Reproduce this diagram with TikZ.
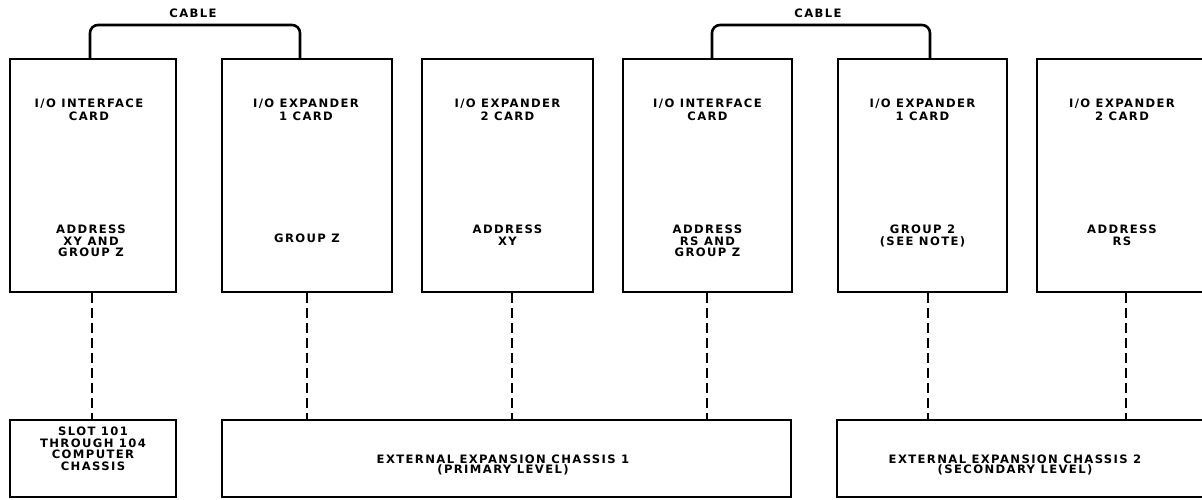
\documentclass[tikz,border=0pt]{standalone}
\usepackage{fontspec}
\setmainfont{DejaVu Sans}
\newfontfamily\lblfont[LetterSpace=12]{DejaVu Sans Bold}
\begin{document}
\begin{tikzpicture}[x=1pt,y=-1pt,
  card/.style={draw, line width=1.8pt, inner sep=0pt, minimum height=233pt},
  base/.style={draw, line width=1.8pt, inner sep=0pt, minimum height=77pt},
  cable/.style={line width=2.6pt, rounded corners=8pt},
  dashline/.style={line width=1.3pt, dash pattern=on 10pt off 5pt},
  lbl/.style={font=\lblfont\fontsize{11.6pt}{11.5pt}\selectfont, align=center, inner sep=0pt},
  toplbl/.style={font=\lblfont\fontsize{11.6pt}{13pt}\selectfont, align=center, inner sep=0pt},
  baselbl/.style={font=\lblfont\fontsize{11.6pt}{10pt}\selectfont, align=center, inner sep=0pt}]
\useasboundingbox (0,0) rectangle (1202,499);
\clip (0,0) rectangle (1202,499);
% cards
\node[card, minimum width=166pt] (c1) at (93,175.5) {};
\node[card, minimum width=170pt] (c2) at (307,175.5) {};
\node[card, minimum width=171pt] (c3) at (507.5,175.5) {};
\node[card, minimum width=169pt] (c4) at (707.5,175.5) {};
\node[card, minimum width=169pt] (c5) at (922.5,175.5) {};
\node[card, minimum width=170pt] (c6) at (1122,175.5) {};
% base boxes
\node[base, minimum width=166pt] (b1) at (93,458.5) {};
\node[base, minimum width=569pt] (b2) at (506.5,458.5) {};
\node[base, minimum width=378pt] (b3) at (1026,458.5) {};
% card texts
\node[toplbl] (t1) at (89,110) {I/O INTERFACE\\CARD};
\node[toplbl] (t2) at (306,110) {I/O EXPANDER\\1 CARD};
\node[toplbl] (t3) at (507.5,110) {I/O EXPANDER\\2 CARD};
\node[toplbl] (t4) at (707.5,110) {I/O INTERFACE\\CARD};
\node[toplbl] (t5) at (922.5,110) {I/O EXPANDER\\1 CARD};
\node[toplbl] (t6) at (1122,110) {I/O EXPANDER\\2 CARD};
\node[lbl, anchor=north] (m1) at (91,225) {ADDRESS\\XY AND\\GROUP Z};
\node[lbl, anchor=north] (m2) at (307,234) {GROUP Z};
\node[lbl, anchor=north] (m3) at (507.5,225) {ADDRESS\\XY};
\node[lbl, anchor=north] (m4) at (707.5,225) {ADDRESS\\RS AND\\GROUP Z};
\node[lbl, anchor=north] (m5) at (922.5,225) {GROUP 2\\(SEE NOTE)};
\node[lbl, anchor=north] (m6) at (1122,225) {ADDRESS\\RS};
% base texts
\node[lbl] (s1) at (93,449) {SLOT 101\\THROUGH 104\\COMPUTER\\CHASSIS};
\node[baselbl] (s2) at (503,465) {EXTERNAL EXPANSION CHASSIS 1\\(PRIMARY LEVEL)};
\node[baselbl] (s3) at (1015,465) {EXTERNAL EXPANSION CHASSIS 2\\(SECONDARY LEVEL)};
% cables
\coordinate (k1) at (195,25);
\coordinate (k2) at (820,25);
\draw[cable] ([xshift=-3pt]c1.north) |- (k1) -| ([xshift=-7pt]c2.north);
\draw[cable] ([xshift=4.5pt]c4.north) |- (k2) -| ([xshift=7.5pt]c5.north);
\node[lbl] (cl1) at (193,13) {CABLE};
\node[lbl] (cl2) at (818,13) {CABLE};
% dashed links
\draw[dashline] ([xshift=-1pt]c1.south) -- ([xshift=-1pt]c1.south |- b1.north);
\draw[dashline] (c2.south) -- (c2.south |- b2.north);
\draw[dashline] ([xshift=4.5pt]c3.south) -- ([xshift=4.5pt]c3.south |- b2.north);
\draw[dashline] ([xshift=-0.5pt]c4.south) -- ([xshift=-0.5pt]c4.south |- b2.north);
\draw[dashline] ([xshift=5.5pt]c5.south) -- ([xshift=5.5pt]c5.south |- b3.north);
\draw[dashline] ([xshift=4pt]c6.south) -- ([xshift=4pt]c6.south |- b3.north);
\end{tikzpicture}
\end{document}
